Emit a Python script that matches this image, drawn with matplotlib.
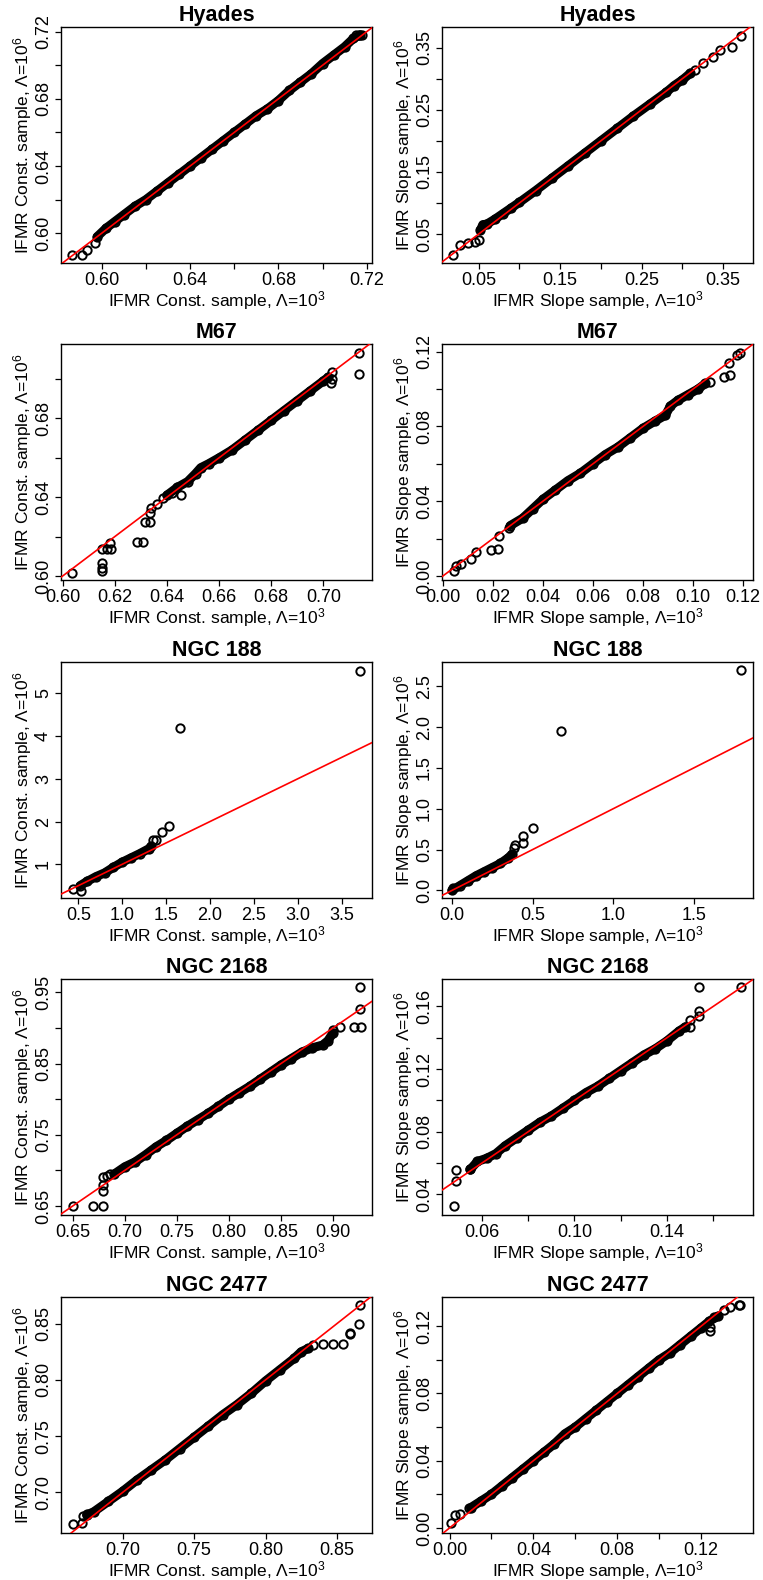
import numpy as np
import matplotlib
matplotlib.use('Agg')
import matplotlib.pyplot as plt

# ------------------------------------------------------------------
# SETTINGS
# ------------------------------------------------------------------
plt.rcParams['font.family'] = ['Liberation Sans', 'DejaVu Sans']
plt.rcParams['mathtext.fontset'] = 'custom'
plt.rcParams['mathtext.rm'] = 'Liberation Sans'
plt.rcParams['mathtext.it'] = 'Liberation Sans:italic'

fontsize = 12.5
ticksize = 13
titlesize = 15.5

titles = ['Hyades', 'Hyades', 'M67', 'M67', 'NGC 188', 'NGC 188',
          'NGC 2168', 'NGC 2168', 'NGC 2477', 'NGC 2477']

xlabel_const = 'IFMR Const. sample, Λ=10$^3$'
ylabel_const = 'IFMR Const. sample, Λ=10$^6$'
xlabel_slope = 'IFMR Slope sample, Λ=10$^3$'
ylabel_slope = 'IFMR Slope sample, Λ=10$^6$'

# ------------------------------------------------------------------
# DATA (quantiles): dense band + sparse points
# ------------------------------------------------------------------

# Hyades, const
hya_c_band_x = [0.598, 0.602, 0.606, 0.610, 0.615, 0.620, 0.625, 0.630, 0.635, 0.640, 0.645, 0.650, 0.655,
                0.660, 0.665, 0.670, 0.675, 0.680, 0.685, 0.690, 0.695, 0.700, 0.705, 0.710, 0.714, 0.717]
hya_c_band_y = [0.598, 0.603, 0.607, 0.611, 0.616, 0.620, 0.625, 0.630, 0.635, 0.640, 0.645, 0.650, 0.655,
                0.660, 0.665, 0.670, 0.674, 0.679, 0.685, 0.690, 0.695, 0.701, 0.706, 0.711, 0.716, 0.718]
hya_c_pts_x = [0.5864, 0.5909, 0.5932, 0.5970, 0.7150, 0.7165, 0.7178]
hya_c_pts_y = [0.5871, 0.5871, 0.5901, 0.5941, 0.7180, 0.7182, 0.7180]

# Hyades, slope
hya_s_band_x = [0.052, 0.055, 0.060, 0.070, 0.080, 0.090, 0.100, 0.120, 0.140, 0.160, 0.180, 0.200, 0.220,
                0.240, 0.260, 0.280, 0.290, 0.300, 0.310]
hya_s_band_y = [0.056, 0.065, 0.066, 0.074, 0.083, 0.092, 0.101, 0.120, 0.140, 0.160, 0.180, 0.200, 0.220,
                0.240, 0.259, 0.278, 0.289, 0.298, 0.309]
hya_s_pts_x = [0.0181, 0.0270, 0.0372, 0.0455, 0.0507, 0.3156, 0.3258, 0.3380, 0.3463, 0.3614, 0.3721]
hya_s_pts_y = [0.0162, 0.0323, 0.0360, 0.0370, 0.0403, 0.3141, 0.3249, 0.3355, 0.3463, 0.3516, 0.3689]

# M67, const
m67_c_band_x = [0.640, 0.644, 0.648, 0.651, 0.653, 0.656, 0.660, 0.665, 0.670, 0.675, 0.680, 0.685, 0.690,
                0.695, 0.700, 0.702]
m67_c_band_y = [0.641, 0.645, 0.648, 0.652, 0.655, 0.657, 0.660, 0.664, 0.669, 0.674, 0.679, 0.684, 0.689,
                0.694, 0.699, 0.701]
m67_c_pts_x = [0.6038, 0.6153, 0.6153, 0.6153, 0.6153, 0.6169, 0.6181, 0.6185, 0.6284, 0.6309, 0.6316,
               0.6335, 0.6335, 0.6341, 0.6361, 0.6386, 0.6418, 0.6456, 0.7035, 0.7035, 0.7030, 0.7138, 0.7138]
m67_c_pts_y = [0.6017, 0.6135, 0.6068, 0.6043, 0.6025, 0.6135, 0.6169, 0.6135, 0.6172, 0.6172, 0.6274,
               0.6274, 0.6321, 0.6346, 0.6368, 0.6397, 0.6422, 0.6414, 0.7035, 0.7000, 0.6980, 0.7131, 0.7026]

# M67, slope
m67_s_band_x = [0.027, 0.032, 0.036, 0.040, 0.045, 0.050, 0.055, 0.060, 0.065, 0.070, 0.075, 0.080, 0.085,
                0.089, 0.091, 0.094, 0.098, 0.102, 0.105]
m67_s_band_y = [0.027, 0.031, 0.036, 0.041, 0.046, 0.051, 0.055, 0.060, 0.065, 0.069, 0.074, 0.079, 0.083,
                0.086, 0.091, 0.094, 0.097, 0.100, 0.103]
m67_s_pts_x = [0.0046, 0.0053, 0.0073, 0.0113, 0.0133, 0.0193, 0.0219, 0.0226, 0.0266,
               0.1070, 0.1123, 0.1150, 0.1143, 0.1176, 0.1187]
m67_s_pts_y = [0.0027, 0.0053, 0.0062, 0.0089, 0.0128, 0.0142, 0.0146, 0.0213, 0.0258,
               0.1040, 0.1067, 0.1076, 0.1138, 0.1182, 0.1195]

# NGC 188, const
n188_c_band_x = [0.52, 0.60, 0.70, 0.80, 0.90, 1.00, 1.10, 1.20, 1.30, 1.33]
n188_c_band_y = [0.50, 0.60, 0.71, 0.80, 0.93, 1.05, 1.15, 1.25, 1.36, 1.42]
n188_c_pts_x = [0.436, 0.531, 1.354, 1.390, 1.450, 1.536, 1.658, 3.708]
n188_c_pts_y = [0.415, 0.383, 1.568, 1.560, 1.762, 1.896, 4.181, 5.530]

# NGC 188, slope
n188_s_band_x = [0.00, 0.05, 0.10, 0.15, 0.20, 0.25, 0.30, 0.35, 0.37]
n188_s_band_y = [0.00, 0.06, 0.12, 0.18, 0.23, 0.28, 0.33, 0.40, 0.44]
n188_s_pts_x = [0.006, 0.382, 0.393, 0.441, 0.441, 0.503, 0.678, 1.796]
n188_s_pts_y = [0.030, 0.519, 0.560, 0.662, 0.581, 0.765, 1.949, 2.696]

# NGC 2168, const
n2168_c_band_x = [0.690, 0.700, 0.710, 0.720, 0.730, 0.740, 0.750, 0.760, 0.770, 0.780, 0.790, 0.800, 0.810,
                  0.820, 0.830, 0.840, 0.850, 0.860, 0.870, 0.880, 0.890, 0.895, 0.900]
n2168_c_band_y = [0.695, 0.705, 0.712, 0.722, 0.733, 0.742, 0.752, 0.762, 0.771, 0.780, 0.790, 0.800, 0.809,
                  0.818, 0.828, 0.838, 0.848, 0.857, 0.866, 0.872, 0.876, 0.882, 0.893]
n2168_c_pts_x = [0.6500, 0.6698, 0.6793, 0.6793, 0.6793, 0.6793, 0.6826, 0.6858,
                 0.9000, 0.9064, 0.9201, 0.9265, 0.9256, 0.9256]
n2168_c_pts_y = [0.6500, 0.6500, 0.6500, 0.6710, 0.6800, 0.6906, 0.6915, 0.6944,
                 0.8977, 0.9015, 0.9015, 0.9015, 0.9267, 0.9570]

# NGC 2168, slope
n2168_s_band_x = [0.055, 0.058, 0.062, 0.066, 0.070, 0.075, 0.080, 0.085, 0.090, 0.095, 0.100, 0.105, 0.110,
                  0.115, 0.120, 0.125, 0.130, 0.135, 0.140, 0.145, 0.148]
n2168_s_band_y = [0.056, 0.061, 0.063, 0.066, 0.071, 0.076, 0.081, 0.086, 0.090, 0.095, 0.100, 0.105, 0.109,
                  0.114, 0.119, 0.124, 0.129, 0.133, 0.138, 0.144, 0.147]
n2168_s_pts_x = [0.0477, 0.0489, 0.0489, 0.0549, 0.1501, 0.1501, 0.1537, 0.1537, 0.1537, 0.1721]
n2168_s_pts_y = [0.0325, 0.0485, 0.0555, 0.0559, 0.1469, 0.1515, 0.1536, 0.1568, 0.1721, 0.1721]

# NGC 2477, const
n2477_c_band_x = [0.675, 0.680, 0.690, 0.700, 0.710, 0.720, 0.730, 0.740, 0.750, 0.760, 0.770, 0.780, 0.790,
                  0.800, 0.810, 0.820, 0.825, 0.830]
n2477_c_band_y = [0.680, 0.683, 0.692, 0.701, 0.711, 0.720, 0.729, 0.739, 0.749, 0.759, 0.769, 0.778, 0.788,
                  0.799, 0.809, 0.819, 0.825, 0.828]
n2477_c_pts_x = [0.6650, 0.6713, 0.6725, 0.6750, 0.8332, 0.8402, 0.8472, 0.8542, 0.8588, 0.8590,
                 0.8653, 0.8658]
n2477_c_pts_y = [0.6720, 0.6729, 0.6787, 0.6806, 0.8308, 0.8323, 0.8323, 0.8323, 0.8405, 0.8420,
                 0.8500, 0.8662]

# NGC 2477, slope
n2477_s_band_x = [0.010, 0.015, 0.020, 0.025, 0.030, 0.035, 0.040, 0.045, 0.050, 0.055, 0.060, 0.065, 0.070,
                  0.075, 0.080, 0.085, 0.090, 0.095, 0.100, 0.105, 0.110, 0.115, 0.120, 0.124, 0.128]
n2477_s_band_y = [0.012, 0.016, 0.020, 0.025, 0.030, 0.035, 0.040, 0.045, 0.050, 0.056, 0.060, 0.065, 0.070,
                  0.075, 0.080, 0.085, 0.090, 0.095, 0.100, 0.104, 0.109, 0.114, 0.119, 0.123, 0.126]
n2477_s_pts_x = [0.0008, 0.0027, 0.0051, 0.0091, 0.1245, 0.1245, 0.1261, 0.1309, 0.1340, 0.1381, 0.1388]
n2477_s_pts_y = [0.0030, 0.0079, 0.0085, 0.0119, 0.1196, 0.1172, 0.1255, 0.1295, 0.1315, 0.1325, 0.1325]

# tick positions and labels ('' = tick without label, as R drops them)
ticks = [
    (['0.60', '', '0.64', '', '0.68', '', '0.72'], [0.60, 0.62, 0.64, 0.66, 0.68, 0.70, 0.72],
     ['0.60', '', '0.64', '', '0.68', '', '0.72'], [0.60, 0.62, 0.64, 0.66, 0.68, 0.70, 0.72]),
    (['0.05', '', '0.15', '', '0.25', '', '0.35'], [0.05, 0.10, 0.15, 0.20, 0.25, 0.30, 0.35],
     ['0.05', '', '0.15', '', '0.25', '', '0.35'], [0.05, 0.10, 0.15, 0.20, 0.25, 0.30, 0.35]),
    (['0.60', '0.62', '0.64', '0.66', '0.68', '0.70'], [0.60, 0.62, 0.64, 0.66, 0.68, 0.70],
     ['0.60', '', '0.64', '', '0.68', ''], [0.60, 0.62, 0.64, 0.66, 0.68, 0.70]),
    (['0.00', '0.02', '0.04', '0.06', '0.08', '0.10', '0.12'], [0.00, 0.02, 0.04, 0.06, 0.08, 0.10, 0.12],
     ['0.00', '', '0.04', '', '0.08', '', '0.12'], [0.00, 0.02, 0.04, 0.06, 0.08, 0.10, 0.12]),
    (['0.5', '1.0', '1.5', '2.0', '2.5', '3.0', '3.5'], [0.5, 1.0, 1.5, 2.0, 2.5, 3.0, 3.5],
     ['1', '2', '3', '4', '5'], [1, 2, 3, 4, 5]),
    (['0.0', '0.5', '1.0', '1.5'], [0.0, 0.5, 1.0, 1.5],
     ['0.0', '0.5', '1.0', '1.5', '2.0', '2.5'], [0.0, 0.5, 1.0, 1.5, 2.0, 2.5]),
    (['0.65', '0.70', '0.75', '0.80', '0.85', '0.90'], [0.65, 0.70, 0.75, 0.80, 0.85, 0.90],
     ['0.65', '', '0.75', '', '0.85', '', '0.95'], [0.65, 0.70, 0.75, 0.80, 0.85, 0.90, 0.95]),
    (['0.06', '', '0.10', '', '0.14', ''], [0.06, 0.08, 0.10, 0.12, 0.14, 0.16],
     ['0.04', '', '0.08', '', '0.12', '', '0.16'], [0.04, 0.06, 0.08, 0.10, 0.12, 0.14, 0.16]),
    (['0.70', '0.75', '0.80', '0.85'], [0.70, 0.75, 0.80, 0.85],
     ['0.70', '0.75', '0.80', '0.85'], [0.70, 0.75, 0.80, 0.85]),
    (['0.00', '', '0.04', '', '0.08', '', '0.12'], [0.00, 0.02, 0.04, 0.06, 0.08, 0.10, 0.12],
     ['0.00', '', '0.04', '', '0.08', '', '0.12'], [0.00, 0.02, 0.04, 0.06, 0.08, 0.10, 0.12]),
]

panels = [
    (hya_c_band_x, hya_c_band_y, hya_c_pts_x, hya_c_pts_y),
    (hya_s_band_x, hya_s_band_y, hya_s_pts_x, hya_s_pts_y),
    (m67_c_band_x, m67_c_band_y, m67_c_pts_x, m67_c_pts_y),
    (m67_s_band_x, m67_s_band_y, m67_s_pts_x, m67_s_pts_y),
    (n188_c_band_x, n188_c_band_y, n188_c_pts_x, n188_c_pts_y),
    (n188_s_band_x, n188_s_band_y, n188_s_pts_x, n188_s_pts_y),
    (n2168_c_band_x, n2168_c_band_y, n2168_c_pts_x, n2168_c_pts_y),
    (n2168_s_band_x, n2168_s_band_y, n2168_s_pts_x, n2168_s_pts_y),
    (n2477_c_band_x, n2477_c_band_y, n2477_c_pts_x, n2477_c_pts_y),
    (n2477_s_band_x, n2477_s_band_y, n2477_s_pts_x, n2477_s_pts_y),
]

# R-style axis extents (range + 4%)
limits = [
    ((0.5816, 0.7224), (0.5823, 0.7228)),
    ((0.0049, 0.3868), (0.0033, 0.3833)),
    ((0.5994, 0.7187), (0.5980, 0.7178)),
    ((-0.0003, 0.1240), (-0.0021, 0.1241)),
    ((0.303, 3.845), (0.212, 5.73)),
    ((-0.062, 1.868), (-0.093, 2.798)),
    ((0.6388, 0.9374), (0.6374, 0.9687)),
    ((0.0427, 0.1772), (0.0268, 0.1775)),
    ((0.6569, 0.8745), (0.6640, 0.8736)),
    ((-0.0036, 0.1448), (-0.0030, 0.1374)),
]

# ------------------------------------------------------------------
# PLOT
# ------------------------------------------------------------------
W, H = 763, 1580
fig = plt.figure(figsize=(W / 100, H / 100), dpi=100)

col_left = [61, 442]
row_top = [27, 344, 662, 979, 1297]
ax_w, ax_h = 311, 236

for i in range(10):
    r, c = divmod(i, 2)
    ax = fig.add_axes([col_left[c] / W, 1 - (row_top[r] + ax_h) / H, ax_w / W, ax_h / H])
    bx, by, px, py = panels[i]

    # dense part of the Q-Q cloud
    ax.plot(bx, by, '-', color='black', lw=6.5, solid_capstyle='round', zorder=2)
    ax.plot(bx, by, 'o', mfc='none', mec='black', ms=6, mew=1.4, zorder=2)
    ax.plot(px, py, 'o', mfc='none', mec='black', ms=6, mew=1.4, zorder=2)
    ax.axline((0, 0), slope=1, color='red', lw=1.2, zorder=3)

    ax.set_xlim(limits[i][0])
    ax.set_ylim(limits[i][1])
    xl, xt, yl, yt = ticks[i]
    ax.set_xticks(xt)
    ax.set_xticklabels(xl)
    ax.set_yticks(yt)
    ax.set_yticklabels(yl, rotation=90, va='center')
    ax.tick_params(direction='out', length=4.5, width=0.9, labelsize=ticksize, pad=2)

    for s in ax.spines.values():
        s.set_linewidth(1.0)

    if c == 0:
        ax.set_xlabel(xlabel_const, fontsize=fontsize, labelpad=0)
        ax.set_ylabel(ylabel_const, fontsize=fontsize, labelpad=1)
    else:
        ax.set_xlabel(xlabel_slope, fontsize=fontsize, labelpad=0)
        ax.set_ylabel(ylabel_slope, fontsize=fontsize, labelpad=1)
    ax.set_title(titles[i], fontsize=titlesize, fontweight='bold', pad=4)

plt.savefig('out.png', dpi=100)
